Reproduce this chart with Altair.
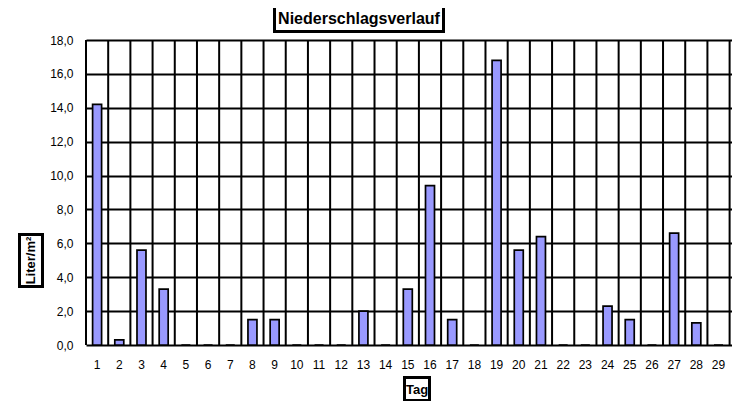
import altair as alt
import pandas as pd

days = list(range(1, 32))
rain = [14.2, 0.3, 5.6, 3.3, 0.0, 0.0, 0.0, 1.5, 1.5, 0.0,
        0.0, 0.0, 2.0, 0.0, 3.3, 9.4, 1.5, 0.0, 16.8, 5.6,
        6.4, 0.0, 0.0, 2.3, 1.5, 0.0, 6.6, 1.3, 0.0, 0.0, 0.0]
y_ticks = [0, 2, 4, 6, 8, 10, 12, 14, 16, 18]

title_text = "Niederschlagsverlauf"
y_title = "Liter/m²"
x_title = "Tag"

df = pd.DataFrame({"day": days, "mm": rain})
FONT = "Liberation Sans"
W, H = 646, 305
FULL = 688  # full band range of all 31 days (extends beyond the window)

xscale = alt.Scale(paddingInner=0, paddingOuter=0, range=[0, FULL])
xaxis = alt.Axis(labelAngle=0, grid=False, ticks=False, domain=False,
                 labelPadding=14, labelFontSize=12, labelFont=FONT,
                 labelColor="black", title=None)

grid = alt.Chart(df).mark_rule(color="black", strokeWidth=2).encode(
    x=alt.X("day:O", bandPosition=0, scale=xscale, axis=xaxis),
    y=alt.value(0), y2=alt.value(H))

bars = alt.Chart(df).mark_bar(width=9, color="#9999ff", stroke="black",
                              strokeWidth=1.7).encode(
    x=alt.X("day:O", scale=xscale, axis=xaxis),
    y=alt.Y("mm:Q", scale=alt.Scale(domain=[0, 18], nice=False),
            axis=alt.Axis(values=y_ticks, grid=True, gridColor="black",
                          gridWidth=2, gridOpacity=1, ticks=False, domain=False,
                          labelPadding=13, labelFontSize=12, labelFont=FONT,
                          labelColor="black", title=None,
                          labelExpr="replace(format(datum.value, '.1f'), '.', ',')")))

one = alt.Data(values=[{"a": 1}])

def box(x1, x2, y1, y2):
    return alt.Chart(one).mark_rect(fill="white", stroke="black", strokeWidth=3).encode(
        x=alt.value(x1), x2=alt.value(x2), y=alt.value(y1), y2=alt.value(y2))

def label(txt, x, y, size, angle=0):
    return alt.Chart(one).mark_text(text=txt, font=FONT, fontSize=size, fontWeight="bold",
                                    color="black", align="center", baseline="middle",
                                    angle=angle).encode(x=alt.value(x), y=alt.value(y))

chart = alt.layer(
    grid, bars,
    box(188.5, 357.5, -34.5, -8.5), label(title_text, 273, -21, 16),
    box(-66.5, -43.5, 194.5, 246.5), label(y_title, -55, 220.5, 13, 270),
    box(318.5, 343.5, 337.5, 360.5), label(x_title, 331, 349.5, 13),
).properties(
    width=W, height=H,
    autosize=alt.AutoSizeParams(type="none"),
    padding={"left": 78, "top": 32, "right": 0, "bottom": 56},
).configure_view(stroke=None)

chart.save("out.html", embed_options={"renderer": "svg", "actions": False})
